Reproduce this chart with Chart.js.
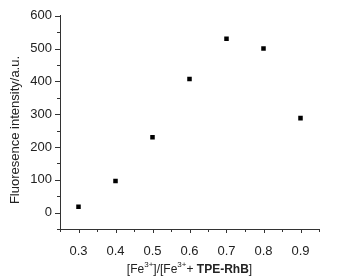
<!DOCTYPE html>
<html><head><meta charset="utf-8">
<script src="https://cdn.jsdelivr.net/npm/chart.js@4/dist/chart.umd.min.js"></script>
<style>html,body{margin:0;padding:0;background:#fff}#wrap{width:347px;height:280px;position:relative}</style>
</head><body><div id="wrap"><canvas id="c" width="347" height="280"></canvas></div>
<script>
const ratios = [0.3, 0.4, 0.5, 0.6, 0.7, 0.8, 0.9];
const intensity = [18, 96, 230, 407, 530, 500, 288];
const yTitle = 'Fluoresence intensity/a.u.';
const FONT = 'Arial, "Liberation Sans", sans-serif';

const tickPlugin = {
  id: 'minorTicks',
  afterDraw(chart) {
    const ctx = chart.ctx, xs = chart.scales.x, ys = chart.scales.y;
    const ca = chart.chartArea;
    ctx.save();
    ctx.fillStyle = '#333';
    for (let i = 0; i <= 14; i++) {
      const v = xs.min + i * 0.05;
      const major = i % 2 === 1;
      const px = Math.round(xs.getPixelForValue(v));
      ctx.fillRect(px, Math.round(ca.bottom), 1, major ? 4 : 3);
    }
    for (let i = 0; i <= 13; i++) {
      const v = ys.min + i * 50;
      const major = i % 2 === 1;
      const py = Math.round(ys.getPixelForValue(v));
      const len = major ? 5 : 3;
      ctx.fillRect(Math.round(ca.left) - len, py, len, 1);
    }
    // y title
    ctx.save();
    ctx.translate(15, 130);
    ctx.rotate(-Math.PI / 2);
    ctx.font = '13px ' + FONT;
    ctx.fillStyle = '#222'; ctx.textAlign = 'center'; ctx.textBaseline = 'middle';
    ctx.fillText(yTitle, 0, 0);
    ctx.restore();
    // x title with superscripts
    const cy = 270;
    const parts = [
      ['[Fe', 'n'], ['3+', 's'], [']/[Fe', 'n'], ['3+', 's'], ['+ ', 'n'], ['TPE-RhB', 'b'], [']', 'n']
    ];
    const fontOf = k => k === 's' ? '8px ' + FONT : (k === 'b' ? 'bold 12px ' + FONT : '12px ' + FONT);
    let w = 0;
    parts.forEach(p => { ctx.font = fontOf(p[1]); w += ctx.measureText(p[0]).width; });
    let x = (ca.left + ca.right) / 2 - w / 2;
    ctx.fillStyle = '#222'; ctx.textBaseline = 'middle'; ctx.textAlign = 'left';
    parts.forEach(p => {
      ctx.font = fontOf(p[1]);
      ctx.fillText(p[0], x, p[1] === 's' ? cy - 5 : cy);
      x += ctx.measureText(p[0]).width;
    });
    ctx.restore();
  }
};

new Chart(document.getElementById('c'), {
  type: 'scatter',
  data: { datasets: [{
    data: ratios.map((r, i) => ({ x: r, y: intensity[i] })),
    pointStyle: 'rect', pointRadius: 3.2, backgroundColor: '#000', borderColor: '#000', borderWidth: 0
  }]},
  options: {
    responsive: false, animation: false,
    layout: { padding: { top: 15, right: 28, left: 0, bottom: 0 } },
    plugins: { legend: { display: false }, tooltip: { enabled: false } },
    scales: {
      x: {
        type: 'linear', min: 0.25, max: 0.95,
        grid: { drawOnChartArea: false, drawTicks: false },
        border: { display: true, color: '#333', width: 1 },
        ticks: {
          stepSize: 0.05, autoSkip: false, maxRotation: 0, padding: 15,
          color: '#222', font: { family: FONT, size: 13 },
          callback: v => Math.abs(v * 10 - Math.round(v * 10)) < 1e-6 ? v.toFixed(1) : null
        },
        afterFit: s => { s.height = 51; }
      },
      y: {
        min: -50, max: 600,
        grid: { drawOnChartArea: false, drawTicks: false },
        border: { display: true, color: '#333', width: 1 },
        ticks: {
          stepSize: 50, autoSkip: false, padding: 8,
          color: '#222', font: { family: FONT, size: 13 },
          callback: v => (v % 100 === 0) ? String(v) : null
        },
        afterFit: s => { s.width = 60; }
      }
    }
  },
  plugins: [tickPlugin]
});
</script></body></html>
